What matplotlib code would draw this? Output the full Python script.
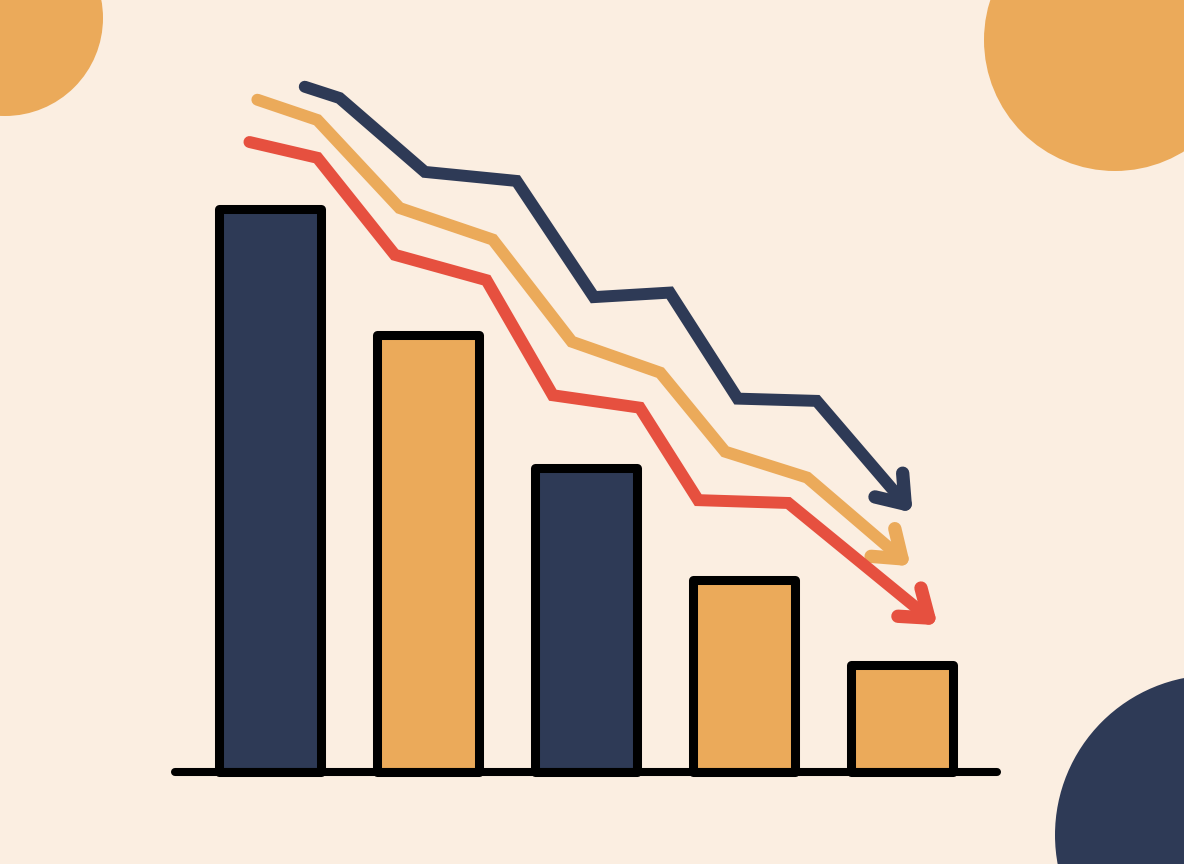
import numpy as np
import matplotlib
matplotlib.use("Agg")
import matplotlib.pyplot as plt
from matplotlib.patches import Circle

# ---------------- data ----------------
categories = ["A", "B", "C", "D", "E"]
bar_values = [99.9, 77.4, 53.9, 34.1, 18.9]
bar_colors = ["#2E3A56", "#EBAA5A", "#2E3A56", "#EBAA5A", "#EBAA5A"]

navy_x = [0.22, 0.44, 0.98, 1.56, 2.05, 2.53, 2.96, 3.46, 4.02]
navy_y = [121.5, 119.5, 106.4, 104.8, 84.2, 85.0, 66.2, 65.8, 47.5]

orange_x = [-0.08, 0.30, 0.82, 1.41, 1.91, 2.47, 2.88, 3.40, 4.00]
orange_y = [119.2, 115.6, 100.0, 94.4, 76.3, 70.8, 56.8, 52.2, 37.8]

red_x = [-0.13, 0.30, 0.79, 1.37, 1.79, 2.34, 2.71, 3.28, 4.17]
red_y = [111.7, 108.9, 91.7, 87.2, 66.8, 64.6, 48.2, 47.7, 27.3]

# decorative circles (figure pixel space): centre x, centre y, radius, colour
circle_cx = [5, 1115, 1215]
circle_cy = [18, 40, 835]
circle_r = [98, 131, 160]
circle_col = ["#EBAA5A", "#EBAA5A", "#2E3A56"]

BG = "#FBEEE1"
NAVY = "#2E3A56"
ORANGE = "#EBAA5A"
RED = "#E6503F"

W, H = 1184, 864
fig = plt.figure(figsize=(W / 100, H / 100), dpi=100, facecolor=BG)

# background decoration axes
bg = fig.add_axes([0, 0, 1, 1])
bg.set_xlim(0, W)
bg.set_ylim(H, 0)
bg.axis("off")
bg.set_facecolor(BG)
for cx, cy, r, c in zip(circle_cx, circle_cy, circle_r, circle_col):
    bg.add_patch(Circle((cx, cy), r, color=c, lw=0, zorder=0))

# main chart axes
x0_px, x1_px = 175.2, 996.8
y0_px, y1_px = 772.0, 38.8
ax = fig.add_axes([x0_px / W, (H - y0_px) / H, (x1_px - x0_px) / W, (y0_px - y1_px) / H])
ax.set_xlim(-0.6, 4.6)
ax.set_ylim(0, 130)
ax.patch.set_alpha(0)
ax.axis("off")

xs = np.arange(len(categories))
bars = ax.bar(xs, bar_values, width=0.65, color=bar_colors,
              edgecolor="black", linewidth=6.5, zorder=3, clip_on=False)
for b in bars:
    b.set_joinstyle("round")

ax.axhline(0, color="black", lw=5.8, solid_capstyle="round", zorder=4, clip_on=False)

def draw_arrow(xv, yv, color):
    ax.plot(xv, yv, color=color, lw=8.6, solid_capstyle="round",
            solid_joinstyle="miter", zorder=5, clip_on=False)
    # chevron head computed in display space
    trans = ax.transData
    p_prev = trans.transform((xv[-2], yv[-2]))
    p_tip = trans.transform((xv[-1], yv[-1]))
    d = p_prev - p_tip
    d = d / np.linalg.norm(d)
    L = 31.0
    for ang in (np.deg2rad(36), np.deg2rad(-36)):
        rot = np.array([[np.cos(ang), -np.sin(ang)], [np.sin(ang), np.cos(ang)]])
        arm = p_tip + L * (rot @ d)
        pts = trans.inverted().transform(np.vstack([arm, p_tip]))
        ax.plot(pts[:, 0], pts[:, 1], color=color, lw=9.6,
                solid_capstyle="round", zorder=5, clip_on=False)

draw_arrow(navy_x, navy_y, NAVY)
draw_arrow(orange_x, orange_y, ORANGE)
draw_arrow(red_x, red_y, RED)

fig.savefig("out.png", dpi=100, facecolor=BG)
